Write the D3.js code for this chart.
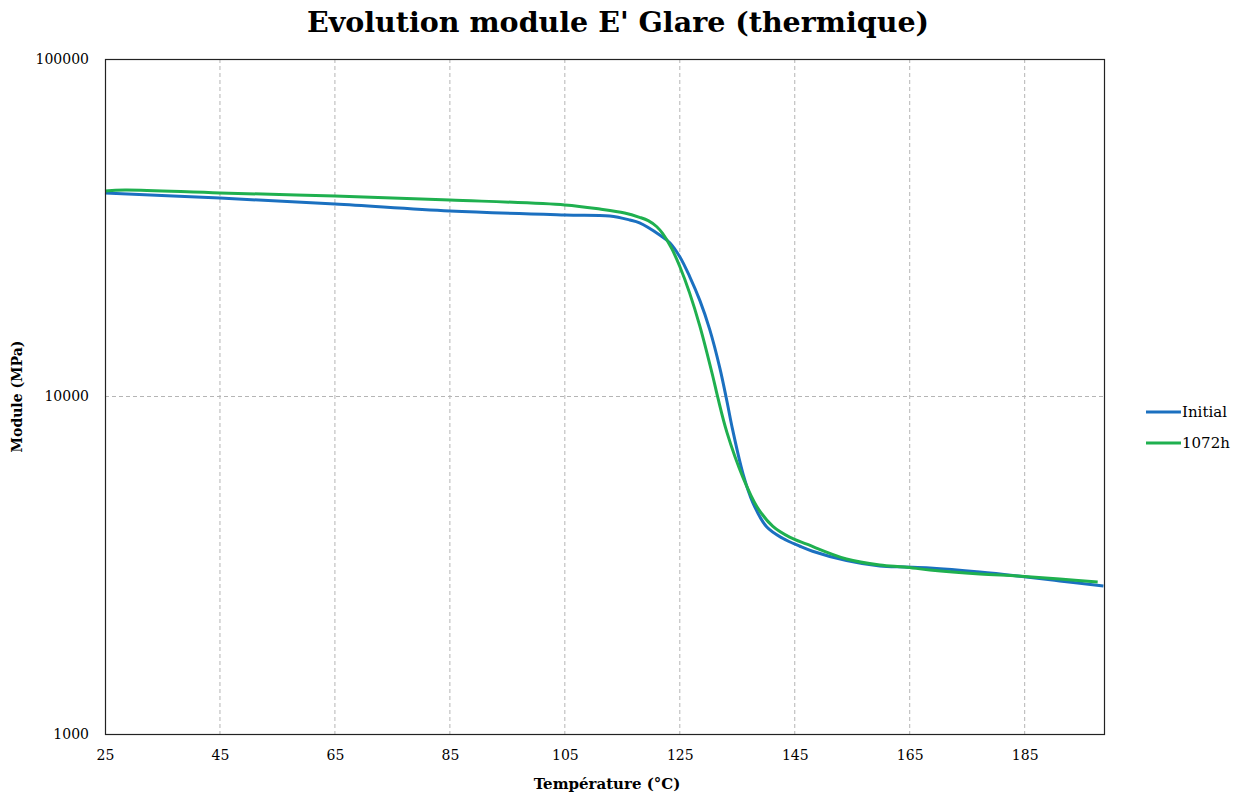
<!DOCTYPE html>
<html>
<head>
<meta charset="utf-8">
<script src="https://cdn.jsdelivr.net/npm/d3@7"></script>
<style>
  body { margin: 0; background: #fff; }
  text { font-family: "DejaVu Serif", "Liberation Serif", serif; }
</style>
</head>
<body>
<div id="chart"></div>
<script>
// Data
const tempInitial = [25, 45, 65, 85, 105, 112.8, 116.3, 118.0, 121.5, 123.3, 125.0, 126.7, 128.5, 130.2, 132.0, 133.2, 134.2, 136.0, 137.7, 140.1, 142.9, 145.9, 148.1, 154.0, 159.8, 164.1, 168.5, 177.2, 183.8, 191.1, 198.7];
const moduleInitial = [40090, 38730, 37190, 35440, 34500, 34260, 33340, 32680, 30100, 28510, 25940, 22700, 19230, 15810, 12080, 9680, 7960, 5900, 4850, 4110, 3800, 3600, 3480, 3265, 3146, 3125, 3104, 3020, 2939, 2841, 2745];

const temp1072 = [25, 28.5, 45, 65, 85, 105, 111.1, 115.4, 118.0, 119.5, 121.0, 122.0, 123.6, 125.0, 126.7, 128.5, 130.7, 131.6, 133.2, 136.0, 138.4, 141.2, 144.1, 147.1, 154.0, 159.8, 164.1, 168.5, 177.2, 183.8, 191.1, 197.7];
const module1072 = [40630, 40910, 40090, 39280, 38220, 36940, 35920, 34970, 33960, 33190, 31840, 30410, 27420, 24270, 20280, 16140, 11560, 9950, 7830, 5750, 4720, 4120, 3830, 3650, 3300, 3167, 3125, 3062, 2980, 2939, 2880, 2821];

const seriesNames = ["Initial", "1072h"];
const seriesColors = ["#1b70c0", "#1fb04f"];
const xTicks = [25, 45, 65, 85, 105, 125, 145, 165, 185];
const yTicks = [1000, 10000, 100000];

const width = 1240;
const height = 796;
const marginTop = 59;
const marginLeft = 105;
const plotRight = 1104;
const plotBottom = 734;
const serif = "DejaVu Serif";

const series = [
  {name: seriesNames[0], color: seriesColors[0], values: tempInitial.map((t, i) => ({t, v: moduleInitial[i]}))},
  {name: seriesNames[1], color: seriesColors[1], values: temp1072.map((t, i) => ({t, v: module1072[i]}))}
];

const x = d3.scaleLinear().domain([25, 198.8]).range([marginLeft, plotRight]);
const y = d3.scaleLog().domain([1000, 100000]).range([plotBottom, marginTop]);

const svg = d3.select("#chart").append("svg")
    .attr("width", width)
    .attr("height", height);

// Title
svg.append("text")
    .attr("x", 618)
    .attr("y", 32)
    .attr("text-anchor", "middle")
    .style("font-family", serif)
    .style("font-size", "28.5px")
    .style("font-weight", "bold")
    .text("Evolution module E' Glare (thermique)");

// Grid lines
svg.append("g")
  .selectAll("line")
  .data(xTicks.slice(1))
  .join("line")
    .attr("x1", d => x(d)).attr("x2", d => x(d))
    .attr("y1", marginTop).attr("y2", plotBottom)
    .attr("stroke", "#b5b5b5")
    .attr("stroke-dasharray", "4,3");

svg.append("g")
  .selectAll("line")
  .data([10000])
  .join("line")
    .attr("x1", marginLeft).attr("x2", plotRight)
    .attr("y1", d => y(d)).attr("y2", d => y(d))
    .attr("stroke", "#b5b5b5")
    .attr("stroke-dasharray", "4,3");

// Axes
svg.append("g")
    .attr("transform", `translate(0,${plotBottom})`)
    .call(d3.axisBottom(x).tickValues(xTicks).tickSize(0).tickPadding(16).tickFormat(d3.format("d")))
    .call(g => g.select(".domain").remove())
    .selectAll("text")
    .style("font-size", "14px")
    .style("font-family", serif);

svg.append("g")
    .attr("transform", `translate(${marginLeft},0)`)
    .call(d3.axisLeft(y).tickValues(yTicks).tickSize(0).tickPadding(16).tickFormat(d3.format("d")))
    .call(g => g.select(".domain").remove())
    .selectAll("text")
    .style("font-size", "14px")
    .style("font-family", serif);

// Lines
const line = d3.line()
    .x(d => x(d.t))
    .y(d => y(d.v))
    .curve(d3.curveCatmullRom.alpha(0.5));

svg.append("g")
  .selectAll("path")
  .data(series)
  .join("path")
    .attr("d", d => line(d.values))
    .attr("fill", "none")
    .attr("stroke", d => d.color)
    .attr("stroke-width", 3)
    .attr("stroke-linejoin", "round");

// Plot frame
svg.append("rect")
    .attr("x", marginLeft + 0.5)
    .attr("y", marginTop + 0.5)
    .attr("width", plotRight - marginLeft)
    .attr("height", plotBottom - marginTop)
    .attr("fill", "none")
    .attr("stroke", "#222")
    .attr("stroke-width", 1.2);

// Axis titles
svg.append("text")
    .attr("x", 607)
    .attr("y", 789)
    .attr("text-anchor", "middle")
    .style("font-family", serif)
    .style("font-size", "15px")
    .style("font-weight", "bold")
    .text("Température (°C)");

svg.append("text")
    .attr("transform", `translate(22,${(marginTop + plotBottom) / 2}) rotate(-90)`)
    .attr("text-anchor", "middle")
    .style("font-family", serif)
    .style("font-size", "14px")
    .style("font-weight", "bold")
    .text("Module (MPa)");

// Legend
const legend = svg.append("g")
    .attr("transform", "translate(1146,412)");

const item = legend.selectAll("g")
  .data(series)
  .join("g")
    .attr("transform", (d, i) => `translate(0,${i * 31})`);

item.append("line")
    .attr("x1", 0).attr("x2", 35)
    .attr("stroke", d => d.color)
    .attr("stroke-width", 3);

item.append("text")
    .attr("x", 36)
    .attr("y", 5)
    .style("font-family", serif)
    .style("font-size", "15px")
    .text(d => d.name);
</script>
</body>
</html>
